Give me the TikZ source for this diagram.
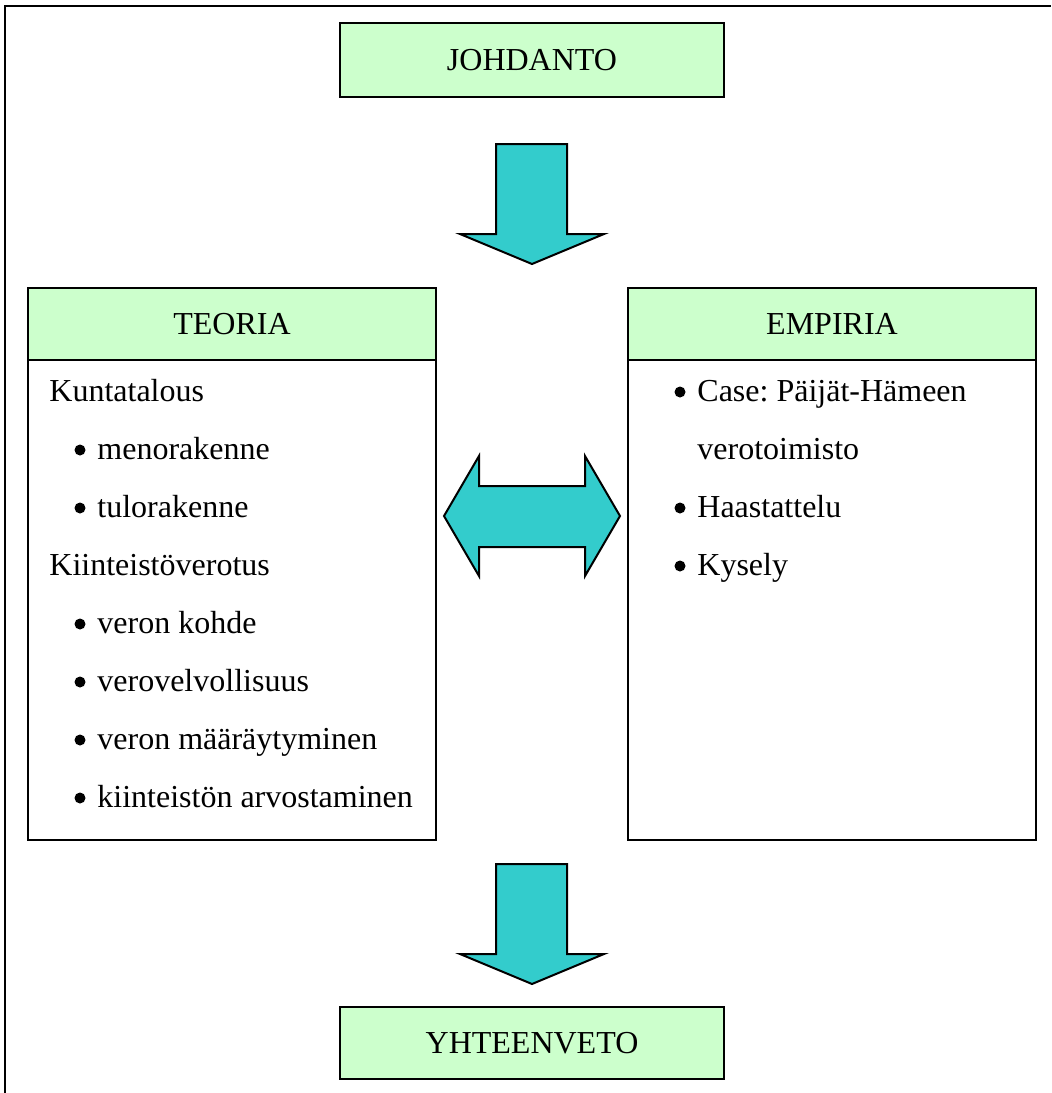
\documentclass[tikz,border=0pt]{standalone}
\usepackage{fontspec}
\setmainfont{Liberation Serif}
\frenchspacing
\usetikzlibrary{positioning}
\definecolor{headgreen}{HTML}{CCFFCC}
\definecolor{arrowteal}{HTML}{33CCCC}
\tikzset{
  txt/.style={font=\fontsize{16}{20}\selectfont, inner sep=0pt, anchor=base west},
  dot/.style={circle, fill, inner sep=0pt, minimum size=5.5pt},
  titlebox/.style={draw, line width=1pt, fill=headgreen, outer sep=0pt,
    minimum width=192pt, font=\fontsize{16}{20}\selectfont},
  headbox/.style={draw, line width=1pt, fill=headgreen, outer sep=0pt,
    minimum width=204pt, minimum height=36pt, font=\fontsize{16}{20}\selectfont},
  bodybox/.style={draw, line width=1pt, outer sep=0pt, minimum width=204pt, minimum height=240pt},
  blockarrow/.style={draw, line width=1pt, fill=arrowteal, line join=miter}
}
\begin{document}
\begin{tikzpicture}[x=0.5pt, y=-0.5pt]
    \useasboundingbox (0,0) rectangle (1051,1093);
    % outer frame
    \draw[line width=1pt] (5,1093) -- (5,6) -- (1051,6);
    % title boxes
    \node[titlebox, minimum height=37pt] (johdanto) at (532,60) {JOHDANTO};
    \node[titlebox, minimum height=36pt] (yhteenveto) at (532,1043) {YHTEENVETO};
    % columns
    \node[headbox] (teoria) at (232,324) {TEORIA};
    \node[bodybox, below=0pt of teoria] (teoriabody) {};
    \node[headbox] (empiria) at (832,324) {EMPIRIA};
    \node[bodybox, below=0pt of empiria] (empiriabody) {};
    % teoria items
    \node[txt] (kunta) at (49,401) {Kuntatalous};
    \node[txt] (kiint) at (49,575) {Kiinteistöverotus};
    \foreach \y/\t [count=\i] in {459/menorakenne, 517/tulorakenne, 633/veron kohde,
        691/verovelvollisuus, 749/veron määräytyminen, 807/kiinteistön arvostaminen} {
      \node[dot] (tb\i) at (80,\y-9) {};
      \node[txt] (t\i) at (97,\y) {\t};
    }
    % empiria items
    \foreach \y/\t [count=\i] in {401/Case: Päijät-Hämeen, 517/Haastattelu, 575/Kysely} {
      \node[dot] (eb\i) at (680,\y-9) {};
      \node[txt] (e\i) at (697,\y) {\t};
    }
    \node[txt] (e1b) at (697,459) {verotoimisto};
    % block arrows
    \draw[blockarrow] (496,144) -- (567,144) -- (567,234) -- (604,234) -- (532,264)
      -- (460,234) -- (496,234) -- cycle;
    \draw[blockarrow] (444,516) -- (479,456) -- (479,486) -- (585,486) -- (585,456)
      -- (620,516) -- (585,576) -- (585,547) -- (479,547) -- (479,576) -- cycle;
    \draw[blockarrow] (496,864) -- (567,864) -- (567,954) -- (604,954) -- (532,984)
      -- (460,954) -- (496,954) -- cycle;
\end{tikzpicture}
\end{document}
